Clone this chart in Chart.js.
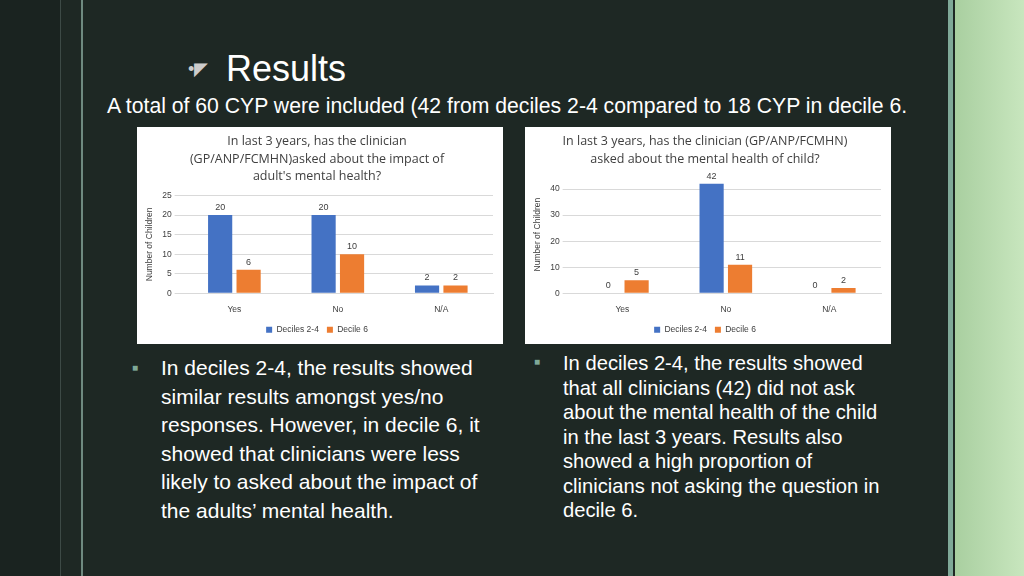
<!DOCTYPE html>
<html><head><meta charset="utf-8">
<script src="https://cdn.jsdelivr.net/npm/chart.js@4"></script>
<style>
body{margin:0;width:1024px;height:576px;background:#1e2824;position:relative;overflow:hidden;font-family:"Liberation Sans",Arial,sans-serif;color:#fff}
.box{position:absolute;background:#fff}
.t{position:absolute;white-space:nowrap}
.b{position:absolute;font-size:21px;line-height:28.5px;white-space:nowrap}
.b2{font-size:20.2px;line-height:24.5px}
</style></head><body>
<div style="position:absolute;left:0;top:0;width:60px;height:576px;background:#1a2320"></div>
<div style="position:absolute;left:60px;top:0;width:1px;height:576px;background:#3d4a46"></div>
<div style="position:absolute;left:81px;top:0;width:2px;height:576px;background:#6f8a80"></div>
<div style="position:absolute;left:955px;top:0;width:69px;height:576px;background:linear-gradient(90deg,#a9cfa0,#c8e6be)"></div>
<div style="position:absolute;left:948px;top:0;width:5px;height:576px;background:#7fa998"></div>
<div class="t" style="left:188px;top:58px;font-size:18px;color:#ccc">•◤</div>
<div class="t" style="left:226px;top:48px;font-size:36px">Results</div>
<div class="t" style="left:107px;top:94px;font-size:21.2px">A total of 60 CYP were included (42 from deciles 2-4 compared to 18 CYP in decile 6.</div>
<div class="box" style="left:137px;top:127px;width:366px;height:217px"><canvas id="c1" width="366" height="217"></canvas></div>
<div class="box" style="left:525px;top:127px;width:366px;height:217px"><canvas id="c2" width="366" height="217"></canvas></div>
<div class="t" style="left:132px;top:362px;font-size:10px;color:#7fa998">■</div>
<div class="b" style="left:161px;top:354px">In deciles 2-4, the results showed<br>similar results amongst yes/no<br>responses.  However, in decile 6, it<br>showed that clinicians were less<br>likely to asked about the impact of<br>the adults’ mental health.</div>
<div class="t" style="left:534px;top:356px;font-size:10px;color:#7fa998">■</div>
<div class="b b2" style="left:563px;top:351px">In deciles 2-4, the results showed<br>that all clinicians (42) did not ask<br>about the mental health of the child<br>in the last 3 years. Results also<br>showed a high proportion of<br>clinicians not asking the question in<br>decile 6.</div>
<script>
const categories=["Yes","No","N/A"];
const seriesNames=["Deciles 2-4","Decile 6"];
const chart1A=[20,20,2], chart1B=[6,10,2];
const chart2A=[0,42,0], chart2B=[5,11,2];
const colors=["#4472C4","#ED7D31"];
const labelPlugin={id:"vl",afterDatasetsDraw(c){const x=c.ctx;x.save();x.fillStyle="#404040";x.font="9px 'Liberation Sans'";x.textAlign="center";x.textBaseline="bottom";
c.data.datasets.forEach((d,i)=>c.getDatasetMeta(i).data.forEach((b,j)=>x.fillText(d.data[j],b.x,b.y-3)));x.restore();}};
function make(id,title,a,b,max,step,top){
new Chart(document.getElementById(id),{type:"bar",plugins:[labelPlugin],
data:{labels:categories,datasets:[{label:seriesNames[0],data:a,backgroundColor:colors[0],categoryPercentage:0.55,barPercentage:0.85},{label:seriesNames[1],data:b,backgroundColor:colors[1],categoryPercentage:0.55,barPercentage:0.85}]},
options:{responsive:false,animation:false,layout:{padding:{left:4,right:10,top:2,bottom:0}},
plugins:{title:{display:true,text:title,color:"#404040",font:{size:12.5,family:"Open Sans",weight:"normal",lineHeight:1.4},padding:{top:4,bottom:top}},
legend:{position:"bottom",labels:{boxWidth:6,boxHeight:6,color:"#404040",font:{size:8.5},padding:8}},tooltip:{enabled:false}},
scales:{x:{grid:{display:false},ticks:{color:"#404040",font:{size:8.5}},border:{color:"#d9d9d9"}},
y:{min:0,max:max,ticks:{stepSize:step,color:"#404040",font:{size:8.5}},grid:{color:"#d9d9d9"},border:{display:false},
title:{display:true,text:"Number of Children",color:"#404040",font:{size:8.5}}}}}});}
make("c1",["In last 3 years, has the clinician","(GP/ANP/FCMHN)asked about the impact of","adult's mental health?"],chart1A,chart1B,25,5,10);
make("c2",["In last 3 years, has the clinician (GP/ANP/FCMHN)","asked about the mental health of child?"],chart2A,chart2B,45,5,8);
</script>
</body></html>
